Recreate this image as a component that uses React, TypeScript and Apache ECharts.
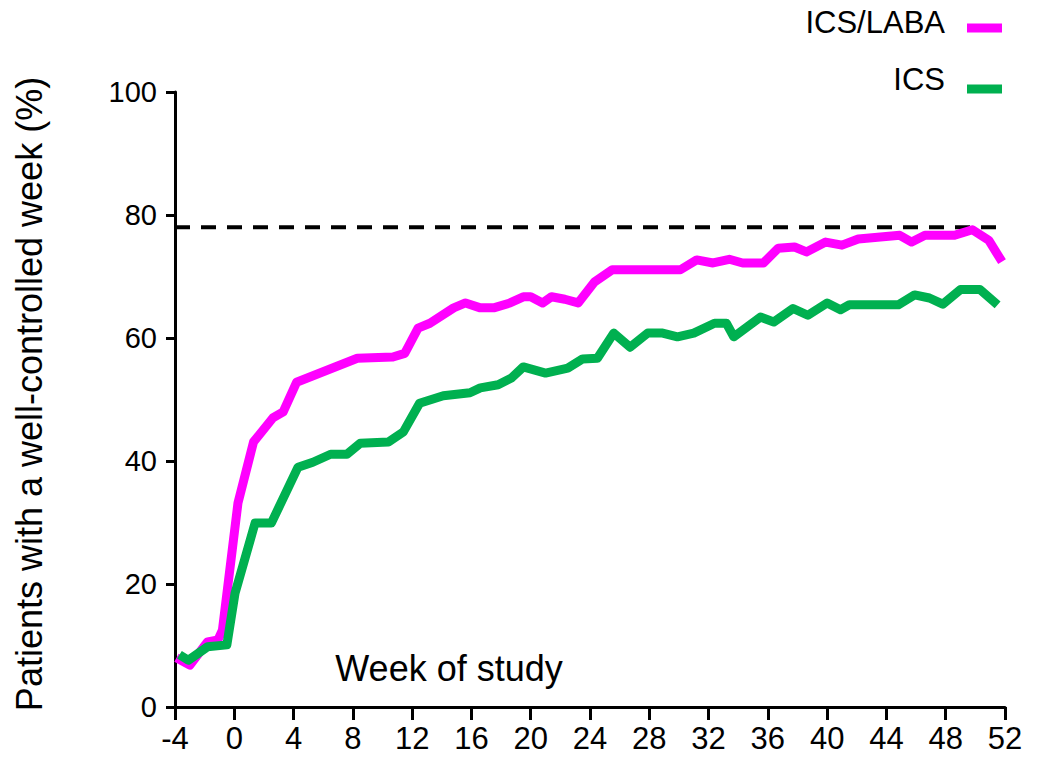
import React, { useEffect, useRef } from "react";
import * as echarts from "echarts";

const xTicks = { min: -4, max: 52, interval: 4 };
const yTicks = { min: 0, max: 100, interval: 20 };

const icsLabaWeeks = [-3.9, -3.0, -1.8, -1.1, -0.8, 0.25, 1.3, 2.6, 3.3, 4.2, 8.3, 10.7, 11.5, 12.4, 13.2, 14.8, 15.6, 16.6, 17.5, 18.6, 19.5, 20.0, 20.8, 21.4, 22.3, 23.2, 24.3, 25.5, 30.1, 31.2, 32.3, 33.4, 34.3, 35.7, 36.7, 37.8, 38.6, 39.9, 41.0, 42.1, 44.9, 45.7, 46.6, 48.6, 49.8, 50.9, 51.8];
const icsLabaValues = [8.0, 6.8, 10.6, 10.9, 12.5, 33.2, 43.1, 47.0, 48.0, 52.8, 56.7, 56.9, 57.5, 61.6, 62.4, 64.9, 65.7, 64.9, 64.9, 65.7, 66.7, 66.7, 65.7, 66.7, 66.3, 65.7, 69.1, 71.1, 71.1, 72.7, 72.2, 72.8, 72.2, 72.2, 74.6, 74.8, 74.0, 75.6, 75.1, 76.1, 76.7, 75.6, 76.7, 76.7, 77.6, 75.9, 72.4];

const icsWeeks = [-3.7, -3.1, -1.8, -0.5, 0.05, 1.4, 2.5, 4.3, 5.3, 6.5, 7.6, 8.5, 10.4, 11.4, 12.5, 14.1, 15.9, 16.6, 17.8, 18.7, 19.5, 21.0, 22.5, 23.5, 24.5, 25.6, 26.7, 27.9, 28.9, 29.9, 31.0, 32.4, 33.2, 33.7, 35.5, 36.4, 37.7, 38.7, 40.0, 40.9, 41.5, 44.8, 45.9, 46.9, 47.8, 49.0, 50.3, 51.5];
const icsValues = [8.5, 7.6, 9.8, 10.1, 18.5, 29.9, 29.9, 39.0, 39.8, 41.1, 41.1, 42.9, 43.1, 44.7, 49.4, 50.6, 51.1, 51.9, 52.4, 53.5, 55.3, 54.3, 55.1, 56.6, 56.7, 60.8, 58.5, 60.8, 60.8, 60.2, 60.8, 62.4, 62.4, 60.2, 63.4, 62.6, 64.8, 63.7, 65.7, 64.6, 65.4, 65.4, 67.0, 66.5, 65.5, 67.9, 67.9, 65.4];

const targetWeeks = [-4, 51.7];
const targetValues = [78, 78];

const seriesNames = ["ICS/LABA", "ICS"];
const seriesColors = ["#FF00FF", "#00B050"];
const xAxisTitle = "Week of study";
const yAxisTitle = "Patients with a well-controlled week (%)";

const FONT = "'Liberation Sans', Arial, sans-serif";

function pairs(xs: number[], ys: number[]) {
  return xs.map((x, i) => [x, ys[i]]);
}

export default function App() {
  const ref = useRef<HTMLDivElement>(null);
  useEffect(() => {
    if (!ref.current) return;
    const chart = echarts.init(ref.current, null, { renderer: "svg" });
    chart.setOption({
      animation: false,
      backgroundColor: "#ffffff",
      textStyle: { fontFamily: FONT },
      grid: { left: 175, top: 92, right: 34, bottom: 51, containLabel: false },
      xAxis: {
        type: "value",
        min: xTicks.min,
        max: xTicks.max,
        interval: xTicks.interval,
        axisLine: { onZero: false, lineStyle: { color: "#000", width: 3 } },
        axisTick: { show: true, length: 13, lineStyle: { color: "#000", width: 3 } },
        axisLabel: { color: "#000", fontSize: 31, fontFamily: FONT, margin: 16 },
        splitLine: { show: false },
      },
      yAxis: {
        type: "value",
        min: yTicks.min,
        max: yTicks.max,
        interval: yTicks.interval,
        axisLine: { show: true, onZero: false, lineStyle: { color: "#000", width: 3 } },
        axisTick: { show: true, length: 9, lineStyle: { color: "#000", width: 3 } },
        axisLabel: { color: "#000", fontSize: 29, fontFamily: FONT, margin: 18 },
        splitLine: { show: false },
      },
      series: [
        {
          type: "line",
          name: "target",
          data: pairs(targetWeeks, targetValues),
          symbol: "none",
          silent: true,
          lineStyle: { color: "#000", width: 4, type: [15, 11] },
        },
        {
          type: "line",
          name: seriesNames[0],
          data: pairs(icsLabaWeeks, icsLabaValues),
          symbol: "none",
          lineStyle: { color: seriesColors[0], width: 9, join: "round" },
        },
        {
          type: "line",
          name: seriesNames[1],
          data: pairs(icsWeeks, icsValues),
          symbol: "none",
          lineStyle: { color: seriesColors[1], width: 9, join: "round" },
        },
      ],
      graphic: [
        {
          type: "text",
          x: 29,
          y: 394,
          rotation: Math.PI / 2,
          style: {
            text: yAxisTitle,
            fontSize: 36,
            fontFamily: FONT,
            fill: "#000",
            align: "center",
            verticalAlign: "middle",
          },
        },
        {
          type: "text",
          x: 449,
          y: 668,
          style: {
            text: xAxisTitle,
            fontSize: 36,
            fontFamily: FONT,
            fill: "#000",
            align: "center",
            verticalAlign: "middle",
          },
        },
        {
          type: "text",
          x: 945,
          y: 22,
          style: { text: seriesNames[0], fontSize: 31, fontFamily: FONT, fill: "#000", align: "right", verticalAlign: "middle" },
        },
        {
          type: "line",
          shape: { x1: 967, y1: 28, x2: 1002, y2: 28 },
          style: { stroke: seriesColors[0], lineWidth: 9 },
        },
        {
          type: "text",
          x: 945,
          y: 79,
          style: { text: seriesNames[1], fontSize: 31, fontFamily: FONT, fill: "#000", align: "right", verticalAlign: "middle" },
        },
        {
          type: "line",
          shape: { x1: 967, y1: 89, x2: 1002, y2: 89 },
          style: { stroke: seriesColors[1], lineWidth: 9 },
        },
      ],
    });
    return () => chart.dispose();
  }, []);
  return (
    <div
      ref={ref}
      style={{ position: "fixed", left: 0, top: 0, width: 1039, height: 758 }}
    />
  );
}
